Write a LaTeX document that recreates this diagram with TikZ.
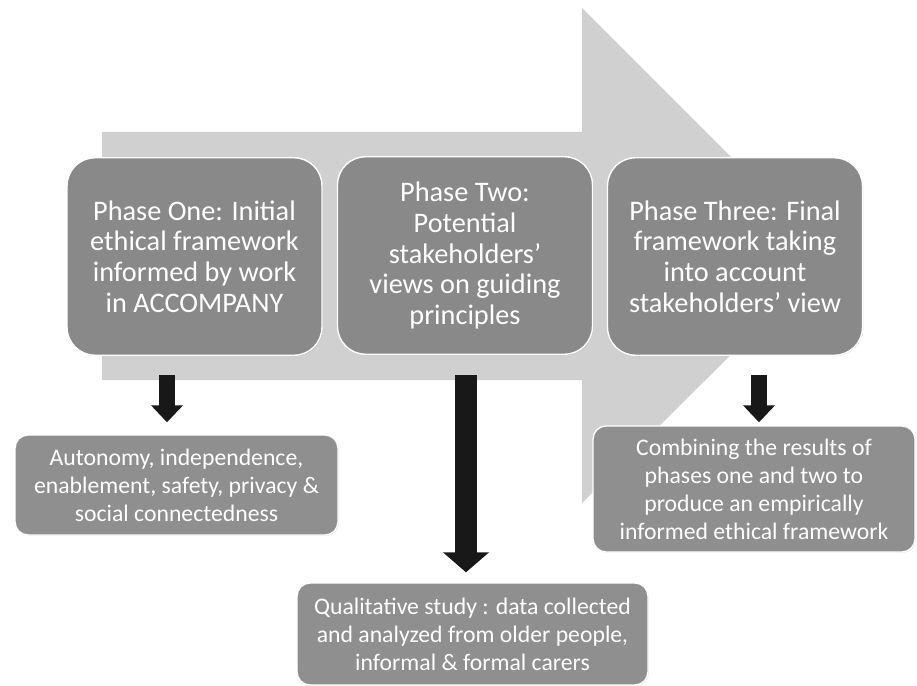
\documentclass[tikz,border=0pt]{standalone}
\usepackage{fontspec}
\setmainfont{Carlito}
\usetikzlibrary{arrows.meta,shadows}

\definecolor{bandgray}{RGB}{208,208,208}
\definecolor{phasegray}{RGB}{137,137,137}
\definecolor{resultgray}{RGB}{143,143,143}
\definecolor{arrowblack}{RGB}{24,24,24}

\tikzset{
    phase/.style={rounded corners=0.56cm, fill=phasegray, draw=white, line width=0.8pt,
        drop shadow={shadow xshift=0.5pt, shadow yshift=-0.5pt, opacity=0.25},
        minimum width=5.1cm, minimum height=3.95cm, inner sep=0pt, align=center,
        text=white, font=\fontsize{16.1}{17.4}\selectfont},
    result/.style={rounded corners=0.26cm, fill=resultgray, draw=white, line width=0.8pt,
        drop shadow={shadow xshift=0.5pt, shadow yshift=-0.5pt, opacity=0.25},
        minimum width=6.46cm, minimum height=2cm, inner sep=0pt, align=center,
        text=white, font=\fontsize{13.5}{15.9}\selectfont},
    downarrow/.style={draw=arrowblack, line width=0.32cm,
        -{Triangle[width=0.62cm, length=0.34cm]}},
}

\begin{document}
\begin{tikzpicture}[x=0.02cm, y=-0.02cm]
    \useasboundingbox (0,0) rectangle (917,686);

    % Big arrow
    \fill[bandgray] (102,132) -- (582,132) -- (582,8) -- (830,256)
        -- (582,503) -- (582,380) -- (102,380) -- cycle;

    % Phases
    \node[phase] (one) at (194.5, 256.5)
        {Phase One: Initial\\ethical framework\\informed by work\\in ACCOMPANY};
    \node[phase] (two) at (465, 255.5)
        {Phase Two:\\Potential\\stakeholders’\\views on guiding\\principles};
    \node[phase] (three) at (735, 256.5)
        {Phase Three: Final\\framework taking\\into account\\stakeholders’ view};

    % Results
    \node[result] (resone) at (176.5, 485)
        {Autonomy, independence,\\enablement, safety, privacy \&\\social connectedness};
    \node[result, minimum width=7.02cm, minimum height=2.04cm] (restwo) at (472.5, 634)
        {Qualitative study : data collected\\and analyzed from older people,\\informal \& formal carers};
    \node[result, minimum width=6.44cm, minimum height=2.52cm] (resthree) at (754, 489)
        {Combining the results of\\phases one and two to\\produce an empirically\\informed ethical framework};

    % Down arrows
    \foreach \n/\x in {one/167, two/466, three/759} {
        \coordinate (a\n) at (\x, 375);
    }
    \draw[downarrow, shorten >=0.24cm] (aone) -- (aone |- resone.north);
    \draw[downarrow, line width=0.44cm, -{Triangle[width=0.9cm, length=0.4cm]},
        shorten >=0.2cm] (atwo) -- (atwo |- restwo.north);
    \draw[downarrow, shorten >=0.06cm] (athree) -- (athree |- resthree.north);
\end{tikzpicture}
\end{document}
